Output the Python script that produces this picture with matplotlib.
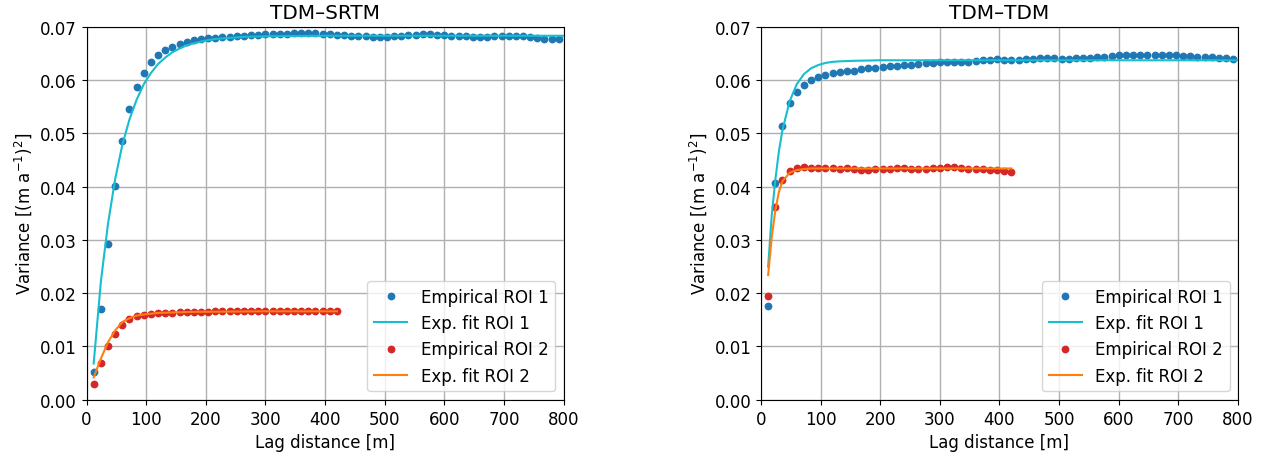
"""Empirical variograms with exponential fits for TDM-SRTM and TDM-TDM differences."""

import matplotlib

matplotlib.use("Agg")
import matplotlib.pyplot as plt

# lag bins [m]
LAG = [
    12, 24, 36, 48, 60, 72, 84, 96, 108, 120, 132,
    144, 156, 168, 180, 192, 204, 216, 228, 240, 252, 264,
    276, 288, 300, 312, 324, 336, 348, 360, 372, 384, 396,
    408, 420, 432, 444, 456, 468, 480, 492, 504, 516, 528,
    540, 552, 564, 576, 588, 600, 612, 624, 636, 648, 660,
    672, 684, 696, 708, 720, 732, 744, 756, 768, 780, 792,
]
LAG_ROI2 = LAG[:35]

# TDM-SRTM, empirical
SRTM_ROI1 = [
    0.0053, 0.0170, 0.0293, 0.0402, 0.0485, 0.0545, 0.0587, 0.0614, 0.0633, 0.0647, 0.0656,
    0.0662, 0.0668, 0.0672, 0.0675, 0.0677, 0.0678, 0.0679, 0.0680, 0.0681, 0.0682, 0.0683,
    0.0684, 0.0685, 0.0686, 0.0686, 0.0687, 0.0687, 0.0688, 0.0688, 0.0688, 0.0688, 0.0687,
    0.0686, 0.0685, 0.0684, 0.0683, 0.0682, 0.0682, 0.0681, 0.0681, 0.0681, 0.0682, 0.0683,
    0.0684, 0.0685, 0.0686, 0.0686, 0.0685, 0.0684, 0.0683, 0.0682, 0.0682, 0.0681, 0.0681,
    0.0681, 0.0682, 0.0682, 0.0683, 0.0683, 0.0682, 0.0681, 0.0679, 0.0677, 0.0676, 0.0676,
]
SRTM_ROI2 = [
    0.0030, 0.0069, 0.0101, 0.0123, 0.0140, 0.0151, 0.0157, 0.0160, 0.0161, 0.0162, 0.0163,
    0.0163, 0.0164, 0.0164, 0.0165, 0.0165, 0.0165, 0.0166, 0.0166, 0.0166, 0.0166, 0.0166,
    0.0166, 0.0166, 0.0166, 0.0166, 0.0166, 0.0166, 0.0166, 0.0166, 0.0166, 0.0166, 0.0167,
    0.0167, 0.0167,
]

# TDM-SRTM, exponential fits
SRTM_FIT1_LAG = [12, 24, 36, 48, 60, 72, 84, 96, 108, 120, 132, 144, 156, 168, 180, 192, 204, 216, 240, 264, 300, 400, 800]
SRTM_FIT1 = [
    0.0068, 0.0221, 0.0330, 0.0414, 0.0478, 0.0526, 0.0563, 0.0592, 0.0613, 0.0630, 0.0642,
    0.0652, 0.0659, 0.0665, 0.0669, 0.0672, 0.0675, 0.0677, 0.0679, 0.0681, 0.0682, 0.0683, 0.0683,
]
SRTM_FIT2_LAG = [12, 24, 36, 48, 60, 72, 84, 96, 120, 180, 300, 420]
SRTM_FIT2 = [0.0042, 0.0077, 0.0108, 0.0130, 0.0146, 0.0153, 0.0158, 0.0160, 0.0163, 0.0165, 0.0166, 0.0166]

# TDM-TDM, empirical
TDM_ROI1 = [
    0.0176, 0.0406, 0.0514, 0.0556, 0.0577, 0.0590, 0.0600, 0.0606, 0.0610, 0.0613, 0.0615,
    0.0616, 0.0617, 0.0620, 0.0622, 0.0622, 0.0624, 0.0626, 0.0627, 0.0629, 0.0629, 0.0630,
    0.0631, 0.0632, 0.0633, 0.0634, 0.0634, 0.0633, 0.0634, 0.0635, 0.0637, 0.0638, 0.0639,
    0.0638, 0.0638, 0.0638, 0.0639, 0.0640, 0.0641, 0.0641, 0.0641, 0.0640, 0.0640, 0.0641,
    0.0642, 0.0642, 0.0644, 0.0644, 0.0645, 0.0647, 0.0647, 0.0647, 0.0647, 0.0647, 0.0647,
    0.0647, 0.0647, 0.0647, 0.0645, 0.0645, 0.0644, 0.0644, 0.0643, 0.0642, 0.0641, 0.0639,
]
TDM_ROI2 = [
    0.0195, 0.0361, 0.0413, 0.0429, 0.0435, 0.0437, 0.0435, 0.0435, 0.0435, 0.0434, 0.0433,
    0.0434, 0.0433, 0.0432, 0.0432, 0.0433, 0.0433, 0.0433, 0.0435, 0.0435, 0.0433, 0.0433,
    0.0433, 0.0435, 0.0435, 0.0437, 0.0437, 0.0435, 0.0433, 0.0433, 0.0433, 0.0432, 0.0432,
    0.0429, 0.0428,
]

# TDM-TDM, exponential fits
TDM_FIT1_LAG = [12, 18, 24, 30, 36, 48, 60, 72, 84, 96, 108, 120, 132, 156, 200, 400, 800]
TDM_FIT1 = [
    0.0250, 0.0346, 0.0412, 0.0466, 0.0506, 0.0560, 0.0592, 0.0611, 0.0622, 0.0628, 0.0632,
    0.0634, 0.0635, 0.0636, 0.0637, 0.0637, 0.0637,
]
TDM_FIT2_LAG = [12, 18, 24, 30, 36, 48, 60, 72, 84, 120, 420]
TDM_FIT2 = [0.0234, 0.0305, 0.0355, 0.0390, 0.0410, 0.0426, 0.0431, 0.0433, 0.0434, 0.0434, 0.0434]

PANELS = [
    ("TDM\u2013SRTM", SRTM_ROI1, SRTM_FIT1_LAG, SRTM_FIT1, SRTM_ROI2, SRTM_FIT2_LAG, SRTM_FIT2),
    ("TDM\u2013TDM", TDM_ROI1, TDM_FIT1_LAG, TDM_FIT1, TDM_ROI2, TDM_FIT2_LAG, TDM_FIT2),
]


def main():
    plt.rcParams.update({
        "font.size": 12,
        "axes.titlesize": 14.4,
        "legend.fontsize": 12,
    })
    fig, axes = plt.subplots(1, 2, figsize=(12.63, 4.6), dpi=100)
    fig.subplots_adjust(left=0.0685, right=0.9802, bottom=0.1287, top=0.9398, wspace=0.414)

    for ax, (title, roi1, fit1_lag, fit1, roi2, fit2_lag, fit2) in zip(axes, PANELS):
        ax.plot(LAG, roi1, "o", ms=4.6, color="tab:blue", label="Empirical ROI 1", zorder=3)
        ax.plot(fit1_lag, fit1, "-", lw=1.5, color="tab:cyan", label="Exp. fit ROI 1", zorder=4)
        ax.plot(LAG_ROI2, roi2, "o", ms=4.6, color="tab:red", label="Empirical ROI 2", zorder=3)
        ax.plot(fit2_lag, fit2, "-", lw=1.5, color="tab:orange", label="Exp. fit ROI 2", zorder=4)

        ax.set_title(title)
        ax.set_xlim(0, 800)
        ax.set_ylim(0, 0.07)
        ax.set_xticks(range(0, 801, 100))
        ax.set_yticks([0.0, 0.01, 0.02, 0.03, 0.04, 0.05, 0.06, 0.07])
        ax.set_yticklabels(["0.00", "0.01", "0.02", "0.03", "0.04", "0.05", "0.06", "0.07"])
        ax.grid(True, color="#b0b0b0", linewidth=1.0)
        ax.set_axisbelow(True)
        ax.set_xlabel("Lag distance [m]")
        ax.set_ylabel(r"Variance [(m a$^{-1}$)$^2$]")
        ax.legend(loc="lower right")

    fig.savefig("out.png", dpi=100, facecolor="white")
    plt.close(fig)


if __name__ == "__main__":
    main()
